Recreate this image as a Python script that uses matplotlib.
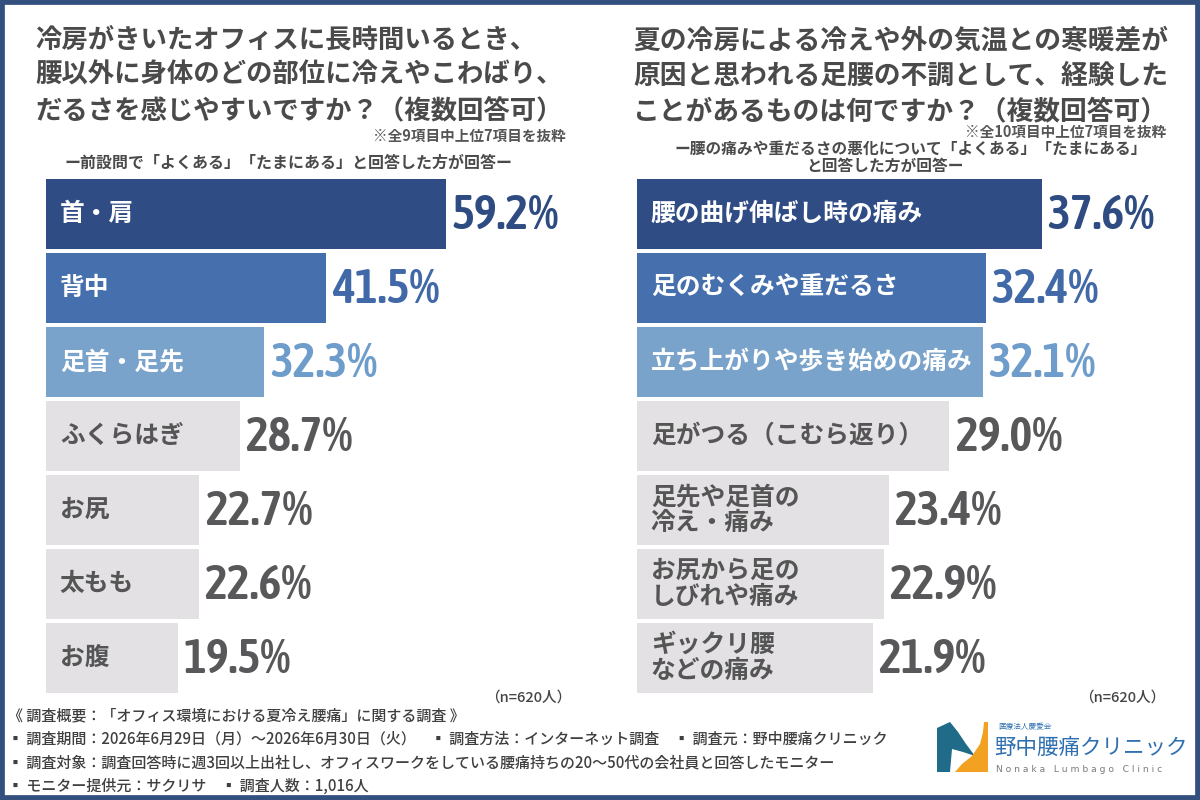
import matplotlib

matplotlib.use('agg')
import matplotlib.pyplot as plt
from matplotlib import font_manager as fm
from matplotlib.patches import Rectangle, Polygon

plt.rcParams['font.family'] = ['Noto Sans CJK JP', 'DejaVu Sans']

# data
left_labels = ['首・肩', '背中', '足首・足先', 'ふくらはぎ', 'お尻', '太もも', 'お腹']
left_values = [59.2, 41.5, 32.3, 28.7, 22.7, 22.6, 19.5]
right_labels = ['腰の曲げ伸ばし時の痛み', '足のむくみや重だるさ', '立ち上がりや歩き始めの痛み',
                '足がつる（こむら返り）', '足先や足首の\n冷え・痛み', 'お尻から足の\nしびれや痛み',
                'ギックリ腰\nなどの痛み']
right_values = [37.6, 32.4, 32.1, 29.0, 23.4, 22.9, 21.9]

left_title = ['冷房がきいたオフィスに長時間いるとき、',
              '腰以外に身体のどの部位に冷えやこわばり、',
              'だるさを感じやすいですか？（複数回答可）']
right_title = ['夏の冷房による冷えや外の気温との寒暖差が',
               '原因と思われる足腰の不調として、経験した',
               'ことがあるものは何ですか？（複数回答可）']
left_note = '※全9項目中上位7項目を抜粋'
right_note = '※全10項目中上位7項目を抜粋'
left_sub = 'ー前設問で「よくある」「たまにある」と回答した方が回答ー'
right_sub = ['ー腰の痛みや重だるさの悪化について「よくある」「たまにある」', 'と回答した方が回答ー']
n_text = '（n=620人）'
footer = ['《 調査概要：「オフィス環境における夏冷え腰痛」に関する調査 》',
          '▪ 調査期間：2026年6月29日（月）～2026年6月30日（火）　▪ 調査方法：インターネット調査　▪ 調査元：野中腰痛クリニック',
          '▪ 調査対象：調査回答時に週3回以上出社し、オフィスワークをしている腰痛持ちの20～50代の会社員と回答したモニター',
          '▪ モニター提供元：サクリサ　▪ 調査人数：1,016人']

# styles
bar_colors = ['#2f4c85', '#4670ad', '#79a3cb'] + ['#e3e1e4'] * 4
val_colors = ['#2e4b82', '#4169a8', '#6e9ccb'] + ['#58585a'] * 4
lab_colors = ['white'] * 3 + ['#555555'] * 4
TXT = '#4a4a4a'


def pick_number_font():
  # a narrow face is closer to the DIN-like digits of the original
  best = None
  for f in fm.fontManager.ttflist:
    narrow = ('Narrow' in f.name or 'Condensed' in f.name
              or str(f.stretch) in ('condensed', 'semi-condensed'))
    if narrow and f.style == 'normal':
      w = f.weight if isinstance(f.weight, int) else 400
      score = -abs(w - 600)
      if best is None or score > best[0]:
        best = (score, f.fname)
  if best:
    return fm.FontProperties(fname=best[1], size=35), True
  return fm.FontProperties(family='Roboto', weight='medium', size=28), False


num_fp, is_narrow = pick_number_font()

W, H = 1200, 800
fig = plt.figure(figsize=(12, 8), dpi=100)
fig.patch.set_facecolor('white')


def px_axes(x0, y0, x1, y1):
  return fig.add_axes([x0 / W, 1 - y1 / H, (x1 - x0) / W, (y1 - y0) / H])


def draw_panel(ax, labels, values, px_per_unit, width_px):
  n = len(values)
  ax.barh(range(n), values, height=0.95, color=bar_colors, edgecolor='none')
  ax.set_xlim(0, width_px / px_per_unit)
  ax.set_ylim(n - 0.5, -0.5)
  ax.axis('off')
  for i, (lab, v) in enumerate(zip(labels, values)):
    ax.annotate(lab, xy=(0, i), xytext=(10, 0), textcoords='offset points',
                ha='left', va='center', fontsize=17.8, fontweight='bold',
                color=lab_colors[i], linespacing=1.1)
    ax.annotate(f'{v:.1f}%', xy=(v, i), xytext=(4, -1), textcoords='offset points',
                ha='left', va='center', fontproperties=num_fp, color=val_colors[i])


axl = px_axes(46, 177, 600, 695)
draw_panel(axl, left_labels, left_values, 400 / 59.2, 554)
axr = px_axes(637, 177, 1195, 695)
draw_panel(axr, right_labels, right_values, 405 / 37.6, 558)

# titles
for k, line in enumerate(left_title):
  fig.text(35 / W, 1 - (40 + 35.5 * k) / H, line, ha='left', va='center',
           fontsize=19, fontweight='bold', color=TXT)
for k, line in enumerate(right_title):
  fig.text(633 / W, 1 - (40 + 35.5 * k) / H, line, ha='left', va='center',
           fontsize=19.3, fontweight='bold', color=TXT)

fig.text(566 / W, 1 - 136 / H, left_note, ha='right', va='center',
         fontsize=10.5, fontweight='bold', color='#555555')
fig.text(1166 / W, 1 - 132 / H, right_note, ha='right', va='center',
         fontsize=10.5, fontweight='bold', color='#555555')
fig.text(289 / W, 1 - 163 / H, left_sub, ha='center', va='center',
         fontsize=11.5, fontweight='bold', color='#4a4a4a')
fig.text(911 / W, 1 - 150 / H, right_sub[0], ha='center', va='center',
         fontsize=11.3, fontweight='bold', color='#4a4a4a')
fig.text(885 / W, 1 - 166 / H, right_sub[1], ha='center', va='center',
         fontsize=11.3, fontweight='bold', color='#4a4a4a')

fig.text(528 / W, 1 - 698 / H, n_text, ha='center', va='center',
         fontsize=10.5, fontweight='medium', color='#444444')
fig.text(1122 / W, 1 - 698 / H, n_text, ha='center', va='center',
         fontsize=10.5, fontweight='medium', color='#444444')

for k, line in enumerate(footer):
  fig.text(8 / W, 1 - (716 + 23.5 * k) / H, line, ha='left', va='center',
           fontsize=10.8, fontweight='medium', color='#3f3f3f')

# logo
lg = px_axes(930, 712, 1195, 782)
lg.set_xlim(930, 1195)
lg.set_ylim(782, 712)
lg.axis('off')
lg.add_patch(Polygon([(937, 728), (950, 722), (958, 732), (966, 744), (975, 756),
                      (963, 752), (952, 749), (950, 772), (937, 772)],
                     closed=True, color='#1f6b88', lw=0))
lg.add_patch(Polygon([(984, 722), (988, 722), (988, 772), (955, 772), (962, 764),
                      (972, 756), (980, 744), (983, 732)],
                     closed=True, color='#f2a122', lw=0))
lg.text(998, 727, '医療法人慶愛会', fontsize=5.5, color='#2e6fb0', va='center', ha='left')
lg.text(994, 748, '野中腰痛クリニック', fontsize=15.5, color='#2e6fb0', va='center', ha='left')
lg.text(996, 770, 'N o n a k a   L u m b a g o   C l i n i c', fontsize=6.6,
        color='#7a7a7a', va='center', ha='left', family='DejaVu Sans')

# frame
fig.patches.append(Rectangle((0, 0), 1, 1, transform=fig.transFigure, fill=False,
                             edgecolor='#34507f', lw=7, zorder=10))

fig.savefig('out.png', dpi=100, facecolor='white')
